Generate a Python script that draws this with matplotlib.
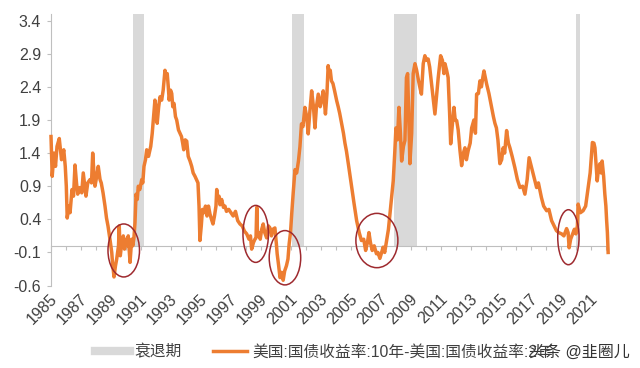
import matplotlib
matplotlib.use("Agg")
import matplotlib.pyplot as plt
import matplotlib.transforms as mtransforms
from matplotlib.patches import Ellipse
from matplotlib.lines import Line2D

plt.rcParams['font.family'] = ['Liberation Sans', 'Noto Sans CJK SC', 'DejaVu Sans']

# US treasury spread 10Y - 2Y
years = [
    1985.00, 1985.08, 1985.2, 1985.3, 1985.4, 1985.55, 1985.7, 1985.85, 1985.95,
    1986.02, 1986.08, 1986.2, 1986.27, 1986.4, 1986.5, 1986.6, 1986.7, 1986.78, 1986.93,
    1987.05, 1987.15, 1987.25, 1987.33, 1987.45, 1987.6, 1987.7, 1987.78, 1987.85, 1987.93,
    1988.05, 1988.15, 1988.27, 1988.35, 1988.47, 1988.6, 1988.7, 1988.8, 1988.93,
    1989.05, 1989.1, 1989.2, 1989.3, 1989.38, 1989.5, 1989.55, 1989.62, 1989.72, 1989.82, 1989.9,
    1990.0, 1990.1, 1990.15, 1990.27, 1990.38, 1990.45, 1990.53, 1990.6, 1990.67, 1990.75, 1990.82, 1990.92,
    1991.05, 1991.12, 1991.2, 1991.3, 1991.38, 1991.5, 1991.65, 1991.75, 1991.82, 1991.93,
    1992.02, 1992.08, 1992.18, 1992.27, 1992.38, 1992.48, 1992.6, 1992.68, 1992.75, 1992.82, 1992.88, 1992.97,
    1993.05, 1993.12, 1993.2, 1993.3, 1993.38, 1993.5, 1993.6, 1993.7, 1993.78, 1993.85, 1993.95,
    1994.05, 1994.15, 1994.27, 1994.38, 1994.48, 1994.6, 1994.7, 1994.8, 1994.87, 1994.93,
    1995.02, 1995.1, 1995.2, 1995.3, 1995.4, 1995.5, 1995.6, 1995.7, 1995.8, 1995.9,
    1996.0, 1996.05, 1996.12, 1996.2, 1996.27, 1996.38, 1996.5, 1996.6, 1996.7, 1996.85,
    1997.0, 1997.15, 1997.3, 1997.45, 1997.6, 1997.75, 1997.9,
    1998.05, 1998.2, 1998.3, 1998.38, 1998.5, 1998.6, 1998.67, 1998.72, 1998.77, 1998.85, 1998.95,
    1999.05, 1999.15, 1999.25, 1999.38, 1999.5, 1999.6, 1999.7, 1999.8, 1999.93,
    2000.02, 2000.08, 2000.18, 2000.27, 2000.38, 2000.48, 2000.58, 2000.7, 2000.8, 2000.88, 2000.97,
    2001.05, 2001.15, 2001.27, 2001.38, 2001.5, 2001.6, 2001.7, 2001.8, 2001.93,
    2002.05, 2002.15, 2002.25, 2002.38, 2002.5, 2002.6, 2002.7, 2002.82, 2002.95,
    2003.05, 2003.15, 2003.22, 2003.3, 2003.4, 2003.48, 2003.55, 2003.62, 2003.7, 2003.8, 2003.9,
    2004.05, 2004.15, 2004.25, 2004.38, 2004.5, 2004.6, 2004.7, 2004.85,
    2005.05, 2005.2, 2005.38, 2005.55, 2005.7, 2005.85, 2005.98,
    2006.1, 2006.2, 2006.3, 2006.42, 2006.55, 2006.7, 2006.8, 2006.93,
    2007.05, 2007.15, 2007.25, 2007.38, 2007.5, 2007.6, 2007.7, 2007.82, 2007.92,
    2008.0, 2008.1, 2008.2, 2008.3, 2008.38, 2008.5, 2008.6, 2008.7, 2008.78, 2008.85, 2008.93,
    2009.05, 2009.15, 2009.27, 2009.38, 2009.5, 2009.6, 2009.7, 2009.82, 2009.93,
    2010.05, 2010.15, 2010.25, 2010.38, 2010.5, 2010.6, 2010.72, 2010.82, 2010.98,
    2011.1, 2011.2, 2011.27, 2011.38, 2011.48, 2011.58, 2011.65, 2011.75, 2011.87, 2011.95,
    2012.05, 2012.15, 2012.27, 2012.38, 2012.5, 2012.6, 2012.7, 2012.82, 2012.95,
    2013.05, 2013.2, 2013.3, 2013.38, 2013.5, 2013.6, 2013.7, 2013.8, 2013.87, 2013.95,
    2014.05, 2014.2, 2014.38, 2014.5, 2014.6, 2014.7, 2014.8, 2014.93,
    2015.05, 2015.15, 2015.25, 2015.38, 2015.5, 2015.6, 2015.75, 2015.93,
    2016.1, 2016.27, 2016.45, 2016.6, 2016.75, 2016.88, 2016.97,
    2017.1, 2017.25, 2017.38, 2017.5, 2017.7, 2017.85,
    2018.05, 2018.2, 2018.38, 2018.55, 2018.7, 2018.85,
    2019.05, 2019.2, 2019.38, 2019.48, 2019.55, 2019.65, 2019.78, 2019.9,
    2020.0, 2020.1, 2020.15, 2020.3, 2020.48, 2020.65, 2020.82, 2020.95,
    2021.05, 2021.1, 2021.2, 2021.27, 2021.35, 2021.42, 2021.5, 2021.6, 2021.68, 2021.75, 2021.85, 2021.93,
    2022.0, 2022.05, 2022.1, 2022.15,
]
spread = [
    1.65, 1.05, 1.4, 1.2, 1.5, 1.62, 1.3, 1.45, 1.2,
    0.9, 0.42, 0.6, 0.5, 0.85, 0.75, 1.22, 0.95, 0.78, 0.88,
    0.8, 1.1, 0.9, 0.75, 0.95, 1.0, 0.95, 1.4, 1.15, 0.9,
    1.05, 1.2, 1.0, 0.95, 0.8, 0.6, 0.42, 0.3, 0.1,
    -0.1, -0.25, -0.47, -0.3, -0.2, 0.0, 0.3, -0.15, 0.05, 0.15, -0.05,
    0.1, 0.0, 0.15, -0.25, 0.1, 0.0, 0.12, 0.35, 0.78, 0.7, 0.9, 0.85,
    1.0, 0.95, 1.2, 1.3, 1.45, 1.35, 1.5, 1.7, 1.9, 2.2,
    2.05, 1.85, 2.1, 2.25, 2.2, 2.35, 2.65, 2.55, 2.6, 2.4, 2.2, 2.35,
    2.3, 2.1, 2.15, 1.95, 1.9, 1.75, 1.7, 1.65, 1.55, 1.45, 1.6,
    1.58, 1.35, 1.28, 1.2, 1.1, 1.05, 1.0, 0.95, 0.6, 0.08,
    0.3, 0.55, 0.5, 0.6, 0.45, 0.6, 0.48, 0.4, 0.33, 0.45,
    0.6, 0.85, 0.7, 0.75, 0.62, 0.7, 0.58, 0.6, 0.52, 0.55,
    0.5, 0.45, 0.52, 0.38, 0.33, 0.3, 0.22,
    0.18, 0.1, 0.15, -0.05, 0.05, 0.1, 0.12, 0.58, 0.15, 0.2, 0.1,
    0.25, 0.33, 0.2, 0.12, 0.3, 0.27, 0.15, 0.25, 0.27,
    0.05, -0.12, -0.3, -0.48, -0.4, -0.52, -0.38, -0.3, -0.2, 0.03, 0.2,
    0.48, 0.8, 1.15, 1.1, 1.28, 1.5, 1.84, 1.8, 2.09,
    1.95, 1.69, 2.0, 2.34, 2.1, 1.78, 2.1, 2.29, 2.1,
    2.2, 2.34, 2.2, 1.99, 2.3, 2.72, 2.6, 2.65, 2.49, 2.45, 2.35,
    2.19, 2.1, 2.0, 1.84, 1.7, 1.55, 1.43, 1.2,
    0.88, 0.65, 0.38, 0.2, 0.08, 0.1, -0.07,
    0.05, 0.2, 0.05, -0.07, 0.0, -0.12, -0.1, -0.19,
    -0.1, -0.02, -0.1, 0.08, 0.25, 0.48, 0.7, 0.98, 1.4,
    1.78, 1.6, 2.09, 1.7, 1.28, 1.5, 1.59, 2.54, 2.6, 2.0, 1.24,
    1.7, 2.6, 2.75, 2.65, 2.5, 2.39, 2.29, 2.75, 2.87,
    2.8, 2.82, 2.7, 2.44, 2.2, 1.99, 2.3, 2.54, 2.87,
    2.8, 2.6, 2.75, 2.65, 2.54, 2.0, 1.54, 1.8, 2.09, 1.9,
    1.89, 1.75, 1.44, 1.21, 1.4, 1.48, 1.3, 1.44, 1.55,
    1.78, 1.9, 1.7, 2.29, 2.3, 2.49, 2.4, 2.55, 2.64, 2.55,
    2.44, 2.3, 2.09, 1.95, 1.85, 1.78, 1.6, 1.24,
    1.3, 1.48, 1.4, 1.74, 1.55, 1.48, 1.35, 1.18,
    1.0, 0.88, 0.9, 0.78, 1.0, 1.33, 1.25,
    1.13, 1.0, 0.88, 0.95, 0.73, 0.6,
    0.53, 0.55, 0.38, 0.3, 0.23, 0.2,
    0.18, 0.15, 0.26, 0.2, -0.03, 0.1, 0.18, 0.25,
    0.18, 0.3, 0.63, 0.5, 0.53, 0.6, 0.88, 1.1,
    1.4, 1.56, 1.55, 1.48, 1.2, 0.98, 1.15, 1.24, 1.1, 1.28, 1.05, 0.78,
    0.6, 0.38, 0.2, -0.1,
]

# recession periods
rec_start = [1990.45, 2001.1, 2007.87, 2020.0]
rec_end = [1991.2, 2001.85, 2009.38, 2020.27]

# red circles: centre year, centre value, width (years), height
circ_x = [1989.85, 1998.65, 2000.6, 2006.73, 2019.5]
circ_y = [-0.07, 0.18, -0.18, 0.08, 0.13]
circ_w = [2.1, 1.7, 2.1, 2.8, 1.42]
circ_h = [0.8, 0.86, 0.82, 0.82, 0.83]

label_years = list(range(1985, 2022, 2))
yticks = [-0.6, -0.1, 0.4, 0.9, 1.4, 1.9, 2.4, 2.9, 3.4]

fig = plt.figure(figsize=(6.4, 3.68), dpi=100)
ax = fig.add_axes([0.0797, 0.224, 0.867, 0.738])

top = 3.5
ax.bar(rec_start, [top] * len(rec_start),
       width=[e - s for s, e in zip(rec_start, rec_end)],
       align='edge', color='#D9D9D9', zorder=1)
ax.plot(years, spread, color='#ED7D31', lw=2.5, zorder=3, clip_on=False)

for cx, cy, w, h in zip(circ_x, circ_y, circ_w, circ_h):
    ax.add_patch(Ellipse((cx, cy), w, h, fill=False, edgecolor='#9E2A2F', lw=1.1, zorder=4))

ax.set_xlim(1985, 2022)
ax.set_ylim(-0.6, top)
ax.set_yticks(yticks)
ax.set_yticklabels([f'{v:.1f}' for v in yticks])

for s in ['top', 'right']:
    ax.spines[s].set_visible(False)
ax.spines['left'].set_color('#BFBFBF')
ax.spines['bottom'].set_position(('data', 0))
ax.spines['bottom'].set_color('#BFBFBF')
ax.set_xticks(range(1985, 2023))
ax.tick_params(axis='x', labelbottom=False, length=3, color='#BFBFBF')
ax.tick_params(axis='y', length=3, color='#BFBFBF', labelsize=11.5, labelcolor='#404040', pad=4)

sec = ax.secondary_xaxis(0)
sec.set_xticks(label_years)
sec.set_xticklabels([str(y) for y in label_years], rotation=45, ha='right',
                    va='center', rotation_mode='anchor')
sec.spines['bottom'].set_visible(False)
sec.tick_params(length=0, pad=8, labelsize=11.5, labelcolor='#404040')
shift = mtransforms.ScaledTranslation(3 / 72, 0, fig.dpi_scale_trans)
for lab in sec.get_xticklabels():
    lab.set_transform(lab.get_transform() + shift)

handles = [
    Line2D([], [], color='#D9D9D9', lw=6),
    Line2D([], [], color='#ED7D31', lw=2.5),
]
labels = ['衰退期', '美国:国债收益率:10年-美国:国债收益率:2年']
fig.legend(handles, labels, loc='center left', bbox_to_anchor=(95 / 640, 1 - 352 / 368),
           ncol=2, frameon=False, fontsize=11.3, handlelength=2.2, handletextpad=0.3,
           columnspacing=2.0, borderpad=0, borderaxespad=0, labelcolor='#404040')

fig.text(529 / 640, 1 - 352 / 368, '头条 @韭圈儿', fontsize=11.5, color='#333333',
         va='center', ha='left')

fig.savefig('out.png', dpi=100)
